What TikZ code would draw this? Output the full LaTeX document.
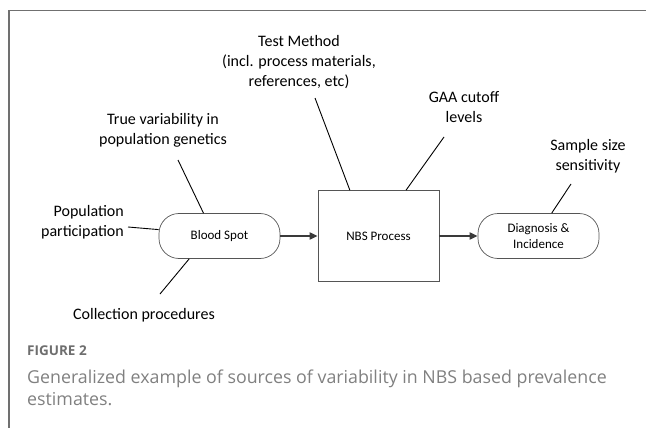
\documentclass[tikz,border=0pt]{standalone}
\usepackage{fontspec}
\setmainfont{Carlito}
\newfontfamily\capfont{Open Sans}
\usepackage{xcolor}
\usetikzlibrary{arrows.meta,positioning}
\definecolor{frameGray}{HTML}{707070}
\definecolor{boxGray}{HTML}{555555}
\definecolor{arrowGray}{HTML}{3A3A3A}
\definecolor{capGray}{HTML}{6E6E6E}
\definecolor{textGray}{HTML}{808080}

\begin{document}
\begin{tikzpicture}[x=1pt,y=-1pt,
    proc/.style={rectangle,draw=boxGray,line width=0.7pt,
                 minimum width=121pt,minimum height=45pt,
                 font=\fontsize{13}{15.5}\selectfont},
    term/.style={proc,rounded corners=20pt},
    src/.style={font=\fontsize{16}{20}\selectfont,align=center,inner sep=0pt},
    lead/.style={black,line width=0.9pt},
    flow/.style={arrowGray,line width=1.8pt,-{Triangle[length=8pt,width=7pt]}}
  ]
  \useasboundingbox (0,0) rectangle (646,428);
  %% Frame (top and left edges only)
  \draw[frameGray,line width=1.1pt] (646,10.5) -- (9,10.5) -- (9,428);
  %% Main flow
  \node[term] (blood) at (219.5,236) {Blood Spot};
  \node[proc,minimum height=91pt] (nbs) at (378.5,236) {NBS Process};
  \node[term,align=center] (diag) at (538.5,236) {Diagnosis \&\\Incidence};
  \draw[flow] (blood) -- (nbs);
  \draw[flow] (nbs) -- (diag);
  %% Sources of variability
  \node[src] (truev) at (163,130) {True variability in\\population genetics};
  \node[src] (test) at (299,62) {Test Method\\(incl. process materials,\\references, etc)};
  \node[src] (gaa) at (464,107) {GAA cutoff\\levels};
  \node[src] (ssize) at (588,156) {Sample size\\sensitivity};
  \node[src,align=right,anchor=east] (popu) at (124,222) {Population\\participation};
  \node[src] (coll) at (144,315) {Collection procedures};
  %% Free ends of the leader lines
  \coordinate (truevEnd) at (178,160);
  \coordinate (testEnd) at (315,98);
  \coordinate (gaaEnd) at (444,137);
  \coordinate (ssizeEnd) at (571,184);
  \coordinate (popuEnd) at (128,227);
  \coordinate (collEnd) at (160,294);
  %% Leader lines
  \draw[lead] (truevEnd) -- (blood.125);
  \draw[lead] (testEnd) -- (nbs.122);
  \draw[lead] (gaaEnd) -- (nbs.59);
  \draw[lead] (ssizeEnd) -- (diag.60);
  \draw[lead] (popuEnd) -- (blood.174);
  \draw[lead] (collEnd) -- (blood.217);
  %% Caption
  \node[anchor=base west,inner sep=0pt,text=capGray,
        font=\capfont\bfseries\fontsize{13.5}{16}\selectfont] (figno) at (27,355) {FIGURE 2};
  \node[anchor=base west,inner sep=0pt,text=textGray,align=left,
        font=\capfont\fontsize{17.8}{22}\selectfont] (capt) at (27,405)
        {Generalized example of sources of variability in NBS based prevalence\\estimates.};
\end{tikzpicture}
\end{document}
